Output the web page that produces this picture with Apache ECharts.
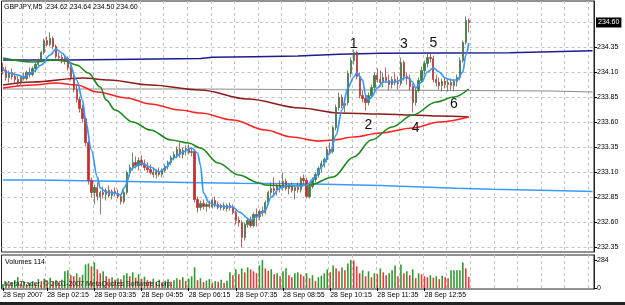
<!DOCTYPE html>
<html><head><meta charset="utf-8">
<script src="https://cdn.jsdelivr.net/npm/echarts@6/dist/echarts.min.js"></script>
<style>html,body{margin:0;padding:0;background:#fff}#c{width:625px;height:305px}</style>
</head><body><div id="c"></div>
<script>
// ---------- DATA ----------
const openP = [234.15,234.12,234.05,234.10,234.06,234.03,234.00,234.05,234.04,234.10,
234.08,234.14,234.18,234.22,234.30,234.42,234.38,234.44,234.36,234.26,
234.25,234.22,234.24,234.15,234.05,233.93,233.83,233.74,233.64,233.40,
233.02,232.90,232.95,232.86,232.90,232.88,232.92,232.87,232.91,232.89,
232.86,232.81,232.90,233.10,233.15,233.20,233.17,233.22,233.18,233.15,
233.13,233.10,233.08,233.11,233.08,233.12,233.16,233.20,233.25,233.28,
233.33,233.28,233.32,233.34,233.30,233.31,232.83,232.75,232.79,232.76,
232.78,232.76,232.82,232.78,232.75,232.77,232.74,232.77,232.75,232.70,
232.62,232.60,232.45,232.58,232.62,232.57,232.68,232.66,232.71,232.70,
232.80,232.90,232.94,232.92,232.97,232.95,233.01,232.94,232.96,232.92,
232.95,232.93,233.04,233.02,232.86,232.96,233.03,233.08,233.14,233.19,
233.23,233.33,233.31,233.55,233.75,233.85,233.77,233.80,234.09,234.22,
234.30,234.06,233.87,233.84,233.80,233.87,233.95,234.07,234.03,234.00,
234.05,234.02,233.98,234.03,234.00,233.99,234.20,234.06,234.04,233.96,
233.80,233.92,234.02,234.12,234.19,234.25,234.24,234.03,234.00,233.97,
234.01,233.98,234.00,233.97,234.01,234.05,234.22,234.40,234.62];
const highP = [234.20,234.16,234.12,234.14,234.10,234.08,234.07,234.10,234.12,234.15,
234.16,234.20,234.24,234.32,234.44,234.46,234.50,234.46,234.38,234.30,
234.28,234.27,234.26,234.18,234.08,233.98,233.86,233.78,233.66,233.42,
233.05,232.98,233.00,232.92,232.96,232.94,232.97,232.93,232.95,232.93,
232.88,232.92,233.12,233.18,233.30,233.26,233.25,233.27,233.23,233.20,
233.18,233.15,233.13,233.15,233.14,233.18,233.22,233.27,233.31,233.36,
233.40,233.35,233.37,233.38,233.35,233.33,232.86,232.82,232.83,232.80,
232.82,232.84,232.86,232.81,232.79,232.80,232.79,232.80,232.78,232.72,
232.66,232.62,232.60,232.65,232.66,232.70,232.74,232.73,232.76,232.82,
232.92,233.00,233.05,232.99,233.02,233.10,233.04,232.99,233.00,232.97,
233.00,233.06,233.08,233.05,232.98,233.05,233.10,233.16,233.22,233.25,
233.36,233.40,233.57,233.78,233.90,233.88,233.82,234.12,234.25,234.33,
234.32,234.10,233.92,233.88,233.90,233.98,234.10,234.14,234.12,234.10,
234.15,234.08,234.06,234.10,234.06,234.25,234.22,234.10,234.08,233.99,
233.95,234.05,234.16,234.22,234.30,234.29,234.27,234.08,234.05,234.04,
234.05,234.03,234.04,234.03,234.08,234.25,234.42,234.66,234.64];
const lowP = [234.08,234.02,234.00,234.03,233.99,233.96,233.97,234.02,234.02,234.05,
234.06,234.10,234.15,234.20,234.28,234.36,234.36,234.33,234.24,234.22,
234.19,234.18,234.12,234.02,233.90,233.80,233.70,233.60,233.36,232.98,
232.85,232.78,232.82,232.68,232.84,232.82,232.85,232.83,232.86,232.84,
232.78,232.79,232.88,233.06,233.12,233.14,233.12,233.16,233.12,233.10,
233.08,233.05,233.04,233.06,233.05,233.10,233.13,233.17,233.22,233.24,
233.25,233.24,233.27,233.28,233.26,232.80,232.70,232.72,232.73,232.71,
232.74,232.74,232.75,232.73,232.72,232.72,232.71,232.72,232.68,232.58,
232.56,232.35,232.42,232.55,232.55,232.55,232.56,232.62,232.66,232.68,
232.78,232.86,232.88,232.87,232.90,232.92,232.92,232.88,232.90,232.83,
232.90,232.90,232.98,232.84,232.84,232.94,233.00,233.05,233.10,233.15,
233.20,233.28,233.29,233.52,233.72,233.74,233.70,233.77,234.05,234.18,
234.03,233.84,233.80,233.72,233.77,233.84,233.92,234.00,233.96,233.95,
234.00,233.92,233.94,233.97,233.93,233.97,234.02,233.98,233.92,233.70,
233.77,233.90,234.00,234.08,234.15,234.20,234.00,233.96,233.93,233.91,
233.94,233.91,233.92,233.91,233.96,234.02,234.20,234.38,234.50];
const closeP = [234.12,234.05,234.10,234.06,234.03,234.00,234.05,234.04,234.10,234.08,
234.14,234.18,234.22,234.30,234.42,234.38,234.44,234.36,234.26,234.25,
234.22,234.24,234.15,234.05,233.93,233.83,233.74,233.64,233.40,233.02,
232.90,232.95,232.86,232.90,232.88,232.92,232.87,232.91,232.89,232.86,
232.81,232.90,233.10,233.15,233.20,233.17,233.22,233.18,233.15,233.13,
233.10,233.08,233.11,233.08,233.12,233.16,233.20,233.25,233.28,233.33,
233.28,233.32,233.34,233.30,233.31,232.83,232.75,232.79,232.76,232.78,
232.76,232.82,232.78,232.75,232.77,232.74,232.77,232.75,232.70,232.62,
232.60,232.45,232.58,232.62,232.57,232.68,232.66,232.71,232.70,232.80,
232.90,232.94,232.92,232.97,232.95,233.01,232.94,232.96,232.92,232.95,
232.93,233.04,233.02,232.86,232.96,233.03,233.08,233.14,233.19,233.23,
233.33,233.31,233.55,233.75,233.85,233.77,233.79,234.09,234.22,234.30,
234.06,233.87,233.84,233.80,233.87,233.95,234.07,234.03,234.00,234.05,
234.02,233.98,234.03,234.00,233.99,234.20,234.06,234.04,233.96,233.80,
233.92,234.02,234.12,234.19,234.25,234.24,234.03,234.00,233.97,234.01,
233.98,234.00,233.97,234.01,234.05,234.22,234.40,234.62,234.60];
const volumes = [40,60,35,55,80,110,45,70,30,50,
65,40,90,70,95,75,105,60,80,55,
85,170,180,130,120,150,110,135,240,250,
220,260,190,150,170,120,95,110,85,100,
90,130,150,120,160,105,140,95,115,80,
70,95,60,85,50,75,90,65,80,100,
85,110,70,95,120,210,80,100,60,75,
90,55,70,65,85,50,75,160,130,190,
140,200,160,210,190,170,150,230,284,200,
175,190,140,150,120,170,200,130,110,150,
160,140,120,150,100,130,70,110,125,150,
190,160,230,200,170,210,180,250,284,280,
220,150,180,120,170,110,150,140,200,160,
130,150,180,230,120,240,150,170,130,190,
100,150,140,120,110,130,105,120,90,125,
110,100,180,180,180,180,260,200,114];
// moving averages / levels as [barIndex, price]
const fastMA = [[0,234.145],[1,234.105],[5,234.075],[7,234.055],[10,234.105],[13,234.175],[16,234.275],[18,234.335],[20,234.295],[22,234.235],[25,234.025],[27,233.825],[28,233.625],[30,233.325],[32,233.055],[33,232.945],[35,232.905],[38,232.895],[40,232.875],[41,232.945],[44,233.145],[47,233.195],[50,233.155],[53,233.105],[55,233.145],[58,233.245],[61,233.305],[64,233.345],[66,233.295],[67,233.175],[68,232.895],[70,232.795],[73,232.765],[78,232.755],[80,232.705],[84,232.625],[86,232.655],[89,232.725],[91,232.855],[94,232.945],[97,232.975],[101,232.965],[103,232.975],[106,233.055],[108,233.155],[111,233.295],[113,233.475],[115,233.725],[117,233.945],[119,234.055],[120,234.095],[122,234.025],[123,233.875],[124,233.825],[125,233.855],[127,233.945],[129,234.005],[133,234.005],[135,234.025],[137,234.055],[139,234.005],[140,233.945],[142,234.005],[144,234.105],[146,234.145],[148,234.105],[150,234.045],[152,234.025],[154,234.025],[156,234.105],[157,234.275],[158,234.395]];
const greenMA = [[0,234.245],[10,234.205],[18,234.225],[21,234.215],[25,234.175],[29,234.095],[33,233.955],[35,233.825],[38,233.725],[44,233.605],[50,233.525],[57,233.425],[63,233.395],[67,233.345],[73,233.195],[80,233.075],[87,232.995],[89,232.975],[96,232.965],[104,232.975],[112,233.055],[119,233.255],[125,233.425],[132,233.555],[139,233.675],[147,233.805],[153,233.855],[158,233.935]];
const redMA = [[0,233.945],[10,233.975],[18,233.995],[25,233.975],[32,233.905],[42,233.845],[50,233.785],[60,233.725],[67,233.695],[78,233.625],[89,233.525],[98,233.455],[107,233.415],[112,233.425],[119,233.455],[128,233.495],[139,233.545],[148,233.605],[158,233.655]];
const maroonMA = [[0,233.975],[10,234.005],[27,234.045],[36,234.025],[50,233.975],[67,233.925],[83,233.835],[101,233.745],[114,233.695],[128,233.685],[139,233.675],[148,233.665],[158,233.655]];
const navyLevel = [[0,234.225],[22,234.24],[67,234.252],[71,234.258],[85,234.265],[100,234.282],[114,234.292],[128,234.298],[172,234.308],[186,234.318],[200,234.318]];
const blueLevel = [[0,233.025],[12,233.015],[33,232.998],[67,232.992],[80,232.985],[105,232.97],[128,232.955],[142,232.942],[154,232.932],[166,232.925],[178,232.918],[190,232.91],[200,232.91]];
const grayLevel = [[0,233.935],[67,233.915],[186,233.905],[200,233.905]];
const priceTicks = [232.35,232.60,232.85,233.10,233.35,233.60,233.85,234.10,234.35];
const gridLevels = [232.35,232.60,232.85,233.10,233.35,233.60,233.85,234.10,234.35,234.60];
const volTicks = [0,284];
const tickIdx = [0,15,31,47,63,79,95,111,127,143];
const tickLabels = ['28 Sep 2007','28 Sep 02:15','28 Sep 03:35','28 Sep 04:55','28 Sep 06:15','28 Sep 07:35','28 Sep 08:55','28 Sep 10:15','28 Sep 11:35','28 Sep 12:55'];
const annoText = ['1','2','3','4','5','6'];
const annoIdx = [119,124,136,140,146,153];
const annoPrice = [234.385,233.575,234.385,233.545,234.395,233.785];
const lastPrice = 234.60;
const titleText = 'GBPJPY,M5  234.62 234.64 234.50 234.60';
const NCAT = 201;
// ---------- BUILD ----------
const categories = [];
for (let i = 0; i < NCAT; i++) {
  const m = 60 + 5 * i, h = Math.floor(m / 60), mm = m % 60;
  categories.push('28 Sep ' + String(h).padStart(2, '0') + ':' + String(mm).padStart(2, '0'));
}
const candleData = openP.map((o, i) => [o, closeP[i], lowP[i], highP[i]]);
const labelMap = {}; tickIdx.forEach((k, j) => labelMap[k] = tickLabels[j]);
const isTick = (i) => labelMap[i] !== undefined;
const isGridV = (i) => i % 8 === 7;
const FONT = 'Liberation Sans, Arial, sans-serif';
const dash = { color: '#c4c4c4', type: [3, 3], width: 1 };

function lineS(data, color, extra) {
  return Object.assign({ type: 'line', xAxisIndex: 0, yAxisIndex: 0, data, showSymbol: false, symbol: 'none',
    lineStyle: { color, width: 1.5 }, silent: true, z: 2, animation: false }, extra || {});
}
const chart = echarts.init(document.getElementById('c'), null, { renderer: 'canvas' });
chart.setOption({
  animation: false,
  backgroundColor: '#fff',
  grid: [
    { left: 1.5, top: 1, width: 592.5, height: 251, show: true, borderColor: '#222', borderWidth: 1, backgroundColor: 'transparent' },
    { left: 1.5, top: 255, width: 592.5, height: 34, show: true, borderColor: '#222', borderWidth: 1, backgroundColor: 'transparent' }
  ],
  xAxis: [
    { type: 'category', gridIndex: 0, data: categories, boundaryGap: true,
      axisLine: { show: false }, axisTick: { show: false }, axisLabel: { show: false },
      splitLine: { show: true, interval: isGridV, lineStyle: dash } },
    { type: 'category', gridIndex: 1, data: categories, boundaryGap: true, position: 'bottom',
      axisLine: { show: false },
      axisTick: { show: true, interval: isTick, alignWithLabel: true, length: 3, inside: false, lineStyle: { color: '#000' } },
      axisLabel: { show: true, interval: isTick, formatter: (v, i) => labelMap[i] || '', align: 'left', margin: 3,
        fontSize: 7, fontFamily: FONT, color: '#000' },
      splitLine: { show: true, interval: isGridV, lineStyle: dash } }
  ],
  yAxis: [
    { type: 'value', gridIndex: 0, position: 'right', min: 232.305, max: 234.815,
      axisLine: { show: true, lineStyle: { color: '#222' } },
      axisTick: { show: true, length: 3, customValues: priceTicks, lineStyle: { color: '#000' } },
      axisLabel: { show: true, customValues: priceTicks, formatter: (v) => v.toFixed(2), fontSize: 7, fontFamily: FONT, color: '#000', margin: 3 },
      splitLine: { show: false } },
    { type: 'value', gridIndex: 1, position: 'right', min: -10, max: 336,
      axisLine: { show: true, lineStyle: { color: '#222' } },
      axisTick: { show: true, length: 3, customValues: volTicks, lineStyle: { color: '#000' } },
      axisLabel: { show: true, customValues: volTicks, fontSize: 7, fontFamily: FONT, color: '#000', margin: 3 },
      splitLine: { show: false } }
  ],
  series: [
    { type: 'line', xAxisIndex: 0, yAxisIndex: 0, data: [], silent: true, z: 0,
      markLine: { silent: true, symbol: 'none', z: 0, label: { show: false }, animation: false,
        lineStyle: dash, data: gridLevels.map(v => ({ yAxis: v })) } },
    lineS(blueLevel, '#3a9bff', { step: 'end', lineStyle: { color: '#3a9bff', width: 1.6 } }),
    lineS(grayLevel, '#8c8c8c', { step: 'end', lineStyle: { color: '#8c8c8c', width: 1.2 } }),
    lineS(navyLevel, '#1c1c90', { step: 'end', lineStyle: { color: '#1c1c90', width: 1.6 } }),
    lineS(maroonMA, '#8e1a1a', { smooth: 0.35, smoothMonotone: 'x', lineStyle: { color: '#8e1a1a', width: 1.6 } }),
    lineS(redMA, '#ff2222', { smooth: 0.35, smoothMonotone: 'x', lineStyle: { color: '#ff2222', width: 1.6 } }),
    lineS(greenMA, '#1a8a1a', { smooth: 0.35, smoothMonotone: 'x', lineStyle: { color: '#1a8a1a', width: 1.6 } }),
    { type: 'candlestick', xAxisIndex: 0, yAxisIndex: 0, data: candleData, barWidth: 1.8, z: 3, silent: true,
      itemStyle: { color: '#2a8c2a', color0: '#e02626', borderColor: '#4a6e4a', borderColor0: '#a83c3c', borderWidth: 0.8 },
      markLine: { silent: true, symbol: 'none', animation: false, lineStyle: { color: 'rgba(255,255,255,0)', width: 0.01 },
        label: { show: true, position: 'end', distance: 2, formatter: () => lastPrice.toFixed(2), backgroundColor: '#000', color: '#fff',
          padding: [2, 2, 1, 2], fontSize: 7, fontFamily: FONT, opacity: 1 },
        emphasis: { disabled: true },
        data: [{ yAxis: lastPrice }] },
      markPoint: { silent: true, symbol: 'rect', symbolSize: 1, itemStyle: { color: 'rgba(0,0,0,0)' }, animation: false,
        label: { show: true, position: 'inside', formatter: (p) => p.name, fontSize: 14, fontFamily: FONT, color: '#111' },
        data: annoText.map((t, j) => ({ name: t, coord: [annoIdx[j], annoPrice[j]] })) } },
    lineS(fastMA, '#3399ff', { smooth: 0.35, smoothMonotone: 'x', z: 4, lineStyle: { color: '#3399ff', width: 1.7 } }),
    { type: 'bar', xAxisIndex: 1, yAxisIndex: 1, data: volumes, barWidth: 1.6, silent: true, z: 2,
      itemStyle: { color: (p) => (p.dataIndex > 0 && volumes[p.dataIndex] < volumes[p.dataIndex - 1]) ? '#e83a3a' : '#2f9a2f' } }
  ],
  graphic: [
    { type: 'text', left: 4, top: 4, z: 100, style: { text: titleText, fontSize: 7, fontFamily: FONT, fill: '#000' } },
    { type: 'text', left: 5, top: 259, z: 100, style: { text: 'Volumes 114', fontSize: 7, fontFamily: FONT, fill: '#000' } },
    { type: 'text', left: 4, top: 281, z: 100, style: { text: 'MetaTrader, \u00a9 2001-2007 MetaQuotes Software Corp.', fontSize: 7, fontFamily: FONT, fill: '#222' } },
    { type: 'rect', left: 0, top: 302, z: 100, shape: { width: 625, height: 3 }, style: { fill: '#222' } }
  ]
});
</script></body></html>
